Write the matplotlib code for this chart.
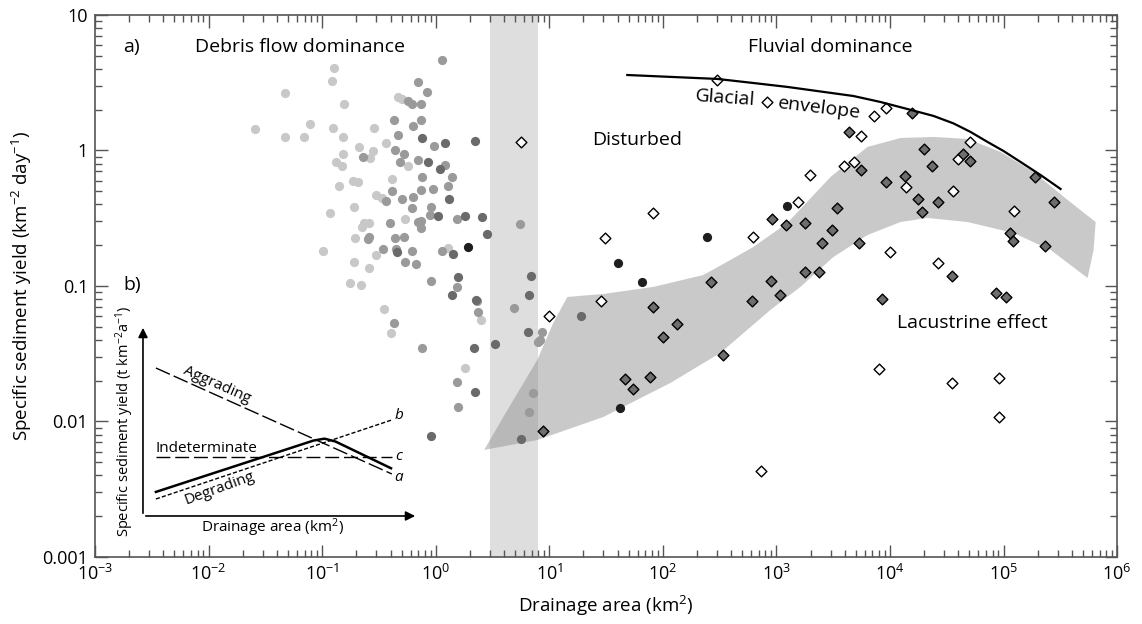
import numpy as np
import matplotlib.pyplot as plt
from matplotlib.ticker import LogLocator, NullFormatter

plt.rcParams['font.family'] = ['Open Sans', 'DejaVu Sans']
plt.rcParams['mathtext.fontset'] = 'custom'
plt.rcParams['mathtext.rm'] = 'Open Sans'
plt.rcParams['mathtext.it'] = 'Open Sans:italic'

# --------------------------------------------------
# Data: log10(drainage area, km2) and log10(yield)
# --------------------------------------------------
light_lx = [-0.894, -0.912, -1.326, -0.806, -0.330, -0.295, -1.106, -1.590, -0.903, -0.542,
            -1.326, -1.159, -0.815, -0.674, -0.551, -0.436, -0.815, -0.577, -0.877, -0.824,
            -0.242, -0.383, -0.727, -0.683, -0.850, -0.524, -0.471, -0.718, -0.930, -0.269,
            -0.630, -0.586, -0.648, -0.709, -0.991, -0.524, -0.718, -0.586, -0.753, -0.656,
            -0.454, -0.392, 0.110, 0.260, 0.401]
light_ly = [0.609, 0.513, 0.424, 0.343, 0.395, 0.380, 0.196, 0.159, 0.166, 0.166,
            0.100, 0.100, 0.100, 0.026, -0.004, 0.055, -0.026, -0.055, -0.085, -0.114,
            -0.114, -0.210, -0.225, -0.232, -0.262, -0.328, -0.351, -0.417, -0.461, -0.506,
            -0.535, -0.535, -0.565, -0.646, -0.742, -0.771, -0.823, -0.867, -0.978, -0.993,
            -1.170, -1.347, -0.720, -1.605, -1.251]

mid_lx = [0.057, -0.154, -0.075, -0.242, -0.207, -0.128, -0.366, -0.128, -0.198, -0.330,
          -0.013, -0.357, -0.278, -0.639, -0.313, -0.154, 0.084, 0.145, -0.119, 0.110,
          -0.383, -0.128, -0.022, -0.436, -0.295, -0.198, -0.207, -0.040, -0.048, 0.189,
          -0.154, -0.128, -0.128, -0.401, 0.744, -0.586, -0.595, -0.357, -0.278, -0.463,
          -0.348, -0.207, 0.057, -0.269, -0.172, -0.040, 0.189, -0.366, -0.119, 0.189,
          0.198, 0.859, 0.824, 0.938, 0.921, 0.903, 0.692, 0.366, 0.374]
mid_ly = [0.668, 0.506, 0.432, 0.365, 0.343, 0.343, 0.225, 0.225, 0.181, 0.114,
          0.033, 0.004, -0.026, -0.048, -0.085, -0.070, -0.107, -0.196, -0.196, -0.262,
          -0.299, -0.292, -0.284, -0.373, -0.358, -0.343, -0.424, -0.417, -0.476, -0.506,
          -0.528, -0.520, -0.572, -0.535, -0.542, -0.638, -0.653, -0.646, -0.638, -0.727,
          -0.727, -0.742, -0.742, -0.823, -0.838, -0.963, -1.007, -1.273, -1.458, -1.708,
          -1.893, -1.790, -1.930, -1.339, -1.399, -1.413, -1.162, -1.111, -1.192]

dark_lx = [-0.119, 0.348, 0.084, -0.066, 0.040, 0.119, 0.022, 0.260, 0.410, 0.454,
           -0.339, 0.154, 0.198, 0.841, 0.145, 0.824, 0.357, 0.815, 0.524, 0.339,
           0.348, -0.040, 0.753, 1.282]
dark_ly = [0.092, 0.070, 0.055, -0.085, -0.137, -0.358, -0.483, -0.483, -0.491, -0.616,
           -0.749, -0.764, -0.934, -0.926, -1.066, -1.066, -1.103, -1.339, -1.428, -1.458,
           -1.782, -2.107, -2.129, -1.221]

black_lx = [0.286, 3.097, 2.392, 1.608, 1.819, 1.626]
black_ly = [-0.712, -0.410, -0.638, -0.830, -0.970, -1.900]

open_lx = [0.753, 1.000, 2.480, 2.921, 3.855, 3.969, 3.749, 3.300, 3.599, 3.687,
           3.194, 2.797, 1.916, 1.493, 1.458, 3.996, 4.709, 4.595, 4.137, 4.551,
           5.088, 4.427, 3.899, 4.542, 4.956, 4.956, 2.868]
open_ly = [0.063, -1.221, 0.520, 0.358, 0.255, 0.314, 0.107, -0.181, -0.114, -0.085,
           -0.380, -0.638, -0.461, -0.646, -1.111, -0.749, 0.063, -0.063, -0.269, -0.299,
           -0.446, -0.830, -1.613, -1.716, -1.679, -1.967, -2.365]

fill_lx = [3.643, 4.198, 4.304, 4.639, 4.709, 4.366, 3.749, 3.969, 4.128, 5.273,
           4.251, 4.419, 4.278, 5.441, 3.537, 3.256, 3.493, 3.405, 3.731, 5.053,
           5.079, 5.361, 4.542, 3.934, 4.930, 5.018, 2.965, 3.088, 3.256, 3.379,
           2.427, 2.956, 3.035, 2.789, 1.916, 2.128, 2.004, 2.533, 1.670, 1.740,
           1.890, 0.947]
fill_ly = [0.137, 0.277, 0.011, -0.026, -0.077, -0.114, -0.144, -0.232, -0.188, -0.196,
           -0.358, -0.380, -0.454, -0.380, -0.424, -0.535, -0.587, -0.683, -0.683, -0.609,
           -0.668, -0.705, -0.926, -1.096, -1.052, -1.081, -0.506, -0.550, -0.897, -0.897,
           -0.970, -0.963, -1.066, -1.111, -1.155, -1.280, -1.376, -1.509, -1.686, -1.760,
           -1.672, -2.070]

# glacial envelope
glac_lx = [1.687, 2.480, 2.797, 3.097, 3.678, 3.916, 4.181, 4.383, 4.559, 4.709,
           4.859, 5.000, 5.150, 5.326, 5.502]
glac_ly = [0.557, 0.528, 0.498, 0.469, 0.402, 0.358, 0.300, 0.255, 0.200, 0.137,
           0.063, -0.004, -0.085, -0.181, -0.284]

# fluvial band outline (upper edge, right end, lower edge)
band_lx = [0.427, 0.595, 0.894, 1.035, 1.159, 1.476, 1.916, 2.357, 2.595, 2.797,
           3.097, 3.476, 3.802, 4.093, 4.383, 4.683, 4.974, 5.264, 5.564, 5.811,
           5.793, 5.740,
           5.414, 5.088, 4.683, 4.330, 4.093, 3.802, 3.502, 3.211, 2.947, 2.507,
           2.066, 1.476, 0.894]
band_ly = [-2.210, -1.967, -1.546, -1.273, -1.081, -1.059, -1.007, -0.919, -0.808, -0.712,
           -0.535, -0.196, 0.026, 0.092, 0.100, 0.085, -0.011, -0.159, -0.365, -0.528,
           -0.734, -0.941,
           -0.734, -0.609, -0.528, -0.498, -0.528, -0.624, -0.786, -1.007, -1.177, -1.494,
           -1.716, -1.967, -2.137]

disturbed_range = [3, 8]

# inset (schematic units)
agg_x, agg_y = [0.047, 0.905], [0.775, 0.220]
deg_x, deg_y = [0.047, 0.905], [0.089, 0.503]
ind_x, ind_y = [0.047, 0.905], [0.309, 0.309]
sol_x = [0.047, 0.62, 0.66, 0.70, 0.902]
sol_y = [0.126, 0.395, 0.405, 0.39, 0.250]

# --------------------------------------------------
# Plot
# --------------------------------------------------
fig = plt.figure(figsize=(11.42, 6.24), dpi=100)
ax = fig.add_axes([0.0832, 0.1074, 0.895, 0.8686])

ax.set_xscale('log')
ax.set_yscale('log')
ax.set_xlim(1e-3, 1e6)
ax.set_ylim(1e-3, 10)

p = lambda v: 10 ** np.array(v)

ax.axvspan(disturbed_range[0], disturbed_range[1], color='#dedede', lw=0, zorder=1)
ax.fill(p(band_lx), p(band_ly), color='#949494', alpha=0.5, lw=0, zorder=2)

ax.scatter(p(light_lx), p(light_ly), s=44, c='#c8c8c8', lw=0, zorder=3)
ax.scatter(p(mid_lx), p(mid_ly), s=44, c='#9a9a9a', lw=0, zorder=3)
ax.scatter(p(dark_lx), p(dark_ly), s=44, c='#6a6a6a', lw=0, zorder=3)
ax.scatter(p(black_lx), p(black_ly), s=44, c='#1e1e1e', lw=0, zorder=3)
ax.scatter(p(open_lx), p(open_ly), s=30, marker='D', facecolor='white',
           edgecolor='black', lw=1.0, zorder=4)
ax.scatter(p(fill_lx), p(fill_ly), s=30, marker='D', facecolor='#6e6e6e',
           edgecolor='black', lw=1.0, zorder=4)

ax.plot(p(glac_lx), p(glac_ly), color='black', lw=1.6, zorder=5)

# ticks
ax.set_xticks([10.0 ** k for k in range(-3, 7)])
ax.set_xticklabels(['10$^{%d}$' % k for k in range(-3, 7)])
ax.set_yticks([1e-3, 1e-2, 1e-1, 1, 10])
ax.set_yticklabels(['0.001', '0.01', '0.1', '1', '10'])
for a in (ax.xaxis, ax.yaxis):
    a.set_minor_locator(LogLocator(base=10, subs=np.arange(2, 10), numticks=20))
    a.set_minor_formatter(NullFormatter())
ax.tick_params(which='both', direction='in', top=True, right=True, colors='#555555',
               labelcolor='black', labelsize=13)
ax.tick_params(which='major', length=9, width=1, pad=5)
ax.tick_params(which='minor', length=5, width=1)
for s in ax.spines.values():
    s.set_color('#555555')
    s.set_linewidth(1.2)

ax.set_xlabel('Drainage area (km$^{2}$)', fontsize=13.5, labelpad=7)
ax.set_ylabel('Specific sediment yield (km$^{-2}$ day$^{-1}$)', fontsize=13.5, labelpad=6)

# annotations
tkw = dict(transform=ax.transAxes, ha='center', va='center', fontsize=14)
ax.text(0.036, 0.941, 'a)', **tkw)
ax.text(0.2006, 0.941, 'Debris flow dominance', **tkw)
ax.text(0.719, 0.941, 'Fluvial dominance', **tkw)
ax.text(0.530, 0.769, 'Disturbed', **tkw)
ax.text(0.616, 0.847, 'Glacial', rotation=-4, **tkw)
ax.text(0.709, 0.828, 'envelope', rotation=-7, **tkw)
ax.text(0.858, 0.432, 'Lacustrine effect', **tkw)
ax.text(0.036, 0.502, 'b)', **tkw)

# --------------------------------------------------
# Inset b)
# --------------------------------------------------
ins = fig.add_axes([0.1252, 0.1731, 0.2408, 0.306])
ins.set_xlim(0, 1)
ins.set_ylim(0, 1)
ins.axis('off')
ins.patch.set_alpha(0)

ins.annotate('', xy=(1.0, 0), xytext=(0, 0),
             arrowprops=dict(arrowstyle='-|>', color='black', lw=1.2, mutation_scale=14))
ins.annotate('', xy=(0, 1.0), xytext=(0, 0),
             arrowprops=dict(arrowstyle='-|>', color='black', lw=1.2, mutation_scale=14))

ins.plot(agg_x, agg_y, color='black', lw=1.0, dashes=(11, 3))
ins.plot(ind_x, ind_y, color='black', lw=1.0, dashes=(10, 3.5))
ins.plot(deg_x, deg_y, color='black', lw=1.0, dashes=(3, 1.5))
ins.plot(sol_x, sol_y, color='black', lw=1.8)

ikw = dict(ha='center', va='center', fontsize=11)
ins.text(0.931, 0.199, 'a', style='italic', **ikw)
ins.text(0.931, 0.524, 'b', style='italic', **ikw)
ins.text(0.931, 0.314, 'c', style='italic', **ikw)
ins.text(0.269, 0.686, 'Aggrading', rotation=-24, **ikw)
ins.text(0.229, 0.351, 'Indeterminate', **ikw)
ins.text(0.28, 0.147, 'Degrading', rotation=20, **ikw)
ins.text(0.473, -0.063, 'Drainage area (km$^{2}$)', **ikw)
ins.text(-0.065, 0.497, 'Specific sediment yield (t km$^{-2}$a$^{-1}$)',
         rotation=90, ha='center', va='center', fontsize=10.5)

plt.savefig('out.png', dpi=100)
